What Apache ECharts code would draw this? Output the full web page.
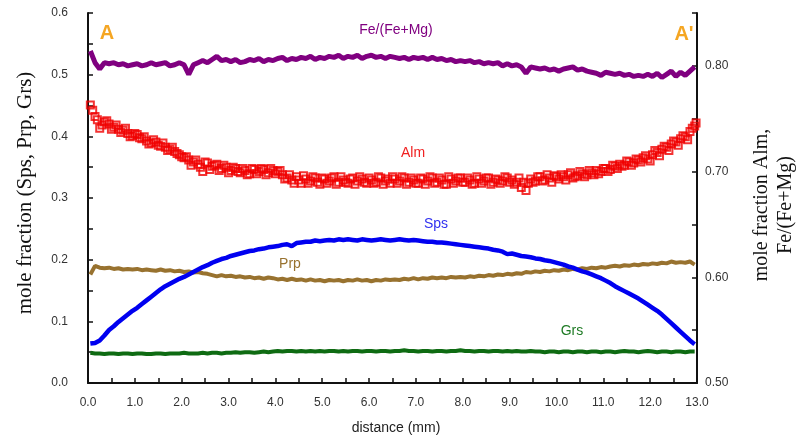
<!DOCTYPE html>
<html>
<head>
<meta charset="utf-8">
<script src="https://cdn.jsdelivr.net/npm/echarts@6/dist/echarts.min.js"></script>
<style>
html,body{margin:0;padding:0;background:#fff;}
#chart{width:798px;height:439px;}
</style>
</head>
<body>
<div id="chart"></div>
<script>
// distance along traverse A-A' (mm)
const distance = [
 0.05,0.15,0.25,0.35,0.45,0.55,0.65,0.75,0.85,0.95,
 1.05,1.15,1.25,1.35,1.45,1.55,1.65,1.75,1.85,1.95,
 2.05,2.15,2.25,2.35,2.45,2.55,2.65,2.75,2.85,2.95,
 3.05,3.15,3.25,3.35,3.45,3.55,3.65,3.75,3.85,3.95,
 4.05,4.15,4.25,4.35,4.45,4.55,4.65,4.75,4.85,4.95,
 5.05,5.15,5.25,5.35,5.45,5.55,5.65,5.75,5.85,5.95,
 6.05,6.15,6.25,6.35,6.45,6.55,6.65,6.75,6.85,6.95,
 7.05,7.15,7.25,7.35,7.45,7.55,7.65,7.75,7.85,7.95,
 8.05,8.15,8.25,8.35,8.45,8.55,8.65,8.75,8.85,8.95,
 9.05,9.15,9.25,9.35,9.45,9.55,9.65,9.75,9.85,9.95,
 10.05,10.15,10.25,10.35,10.45,10.55,10.65,10.75,10.85,10.95,
 11.05,11.15,11.25,11.35,11.45,11.55,11.65,11.75,11.85,11.95,
 12.05,12.15,12.25,12.35,12.45,12.55,12.65,12.75,12.85,12.95
];
// second set of Alm analysis positions (mm)
const distanceB = [
 0.1,0.2,0.3,0.4,0.5,0.6,0.7,0.8,0.9,1.0,
 1.1,1.2,1.3,1.4,1.5,1.6,1.7,1.8,1.9,2.0,
 2.1,2.2,2.3,2.4,2.5,2.6,2.7,2.8,2.9,3.0,
 3.1,3.2,3.3,3.4,3.5,3.6,3.7,3.8,3.9,4.0,
 4.1,4.2,4.3,4.4,4.5,4.6,4.7,4.8,4.9,5.0,
 5.1,5.2,5.3,5.4,5.5,5.6,5.7,5.8,5.9,6.0,
 6.1,6.2,6.3,6.4,6.5,6.6,6.7,6.8,6.9,7.0,
 7.1,7.2,7.3,7.4,7.5,7.6,7.7,7.8,7.9,8.0,
 8.1,8.2,8.3,8.4,8.5,8.6,8.7,8.8,8.9,9.0,
 9.1,9.2,9.3,9.4,9.5,9.6,9.7,9.8,9.9,10.0,
 10.1,10.2,10.3,10.4,10.5,10.6,10.7,10.8,10.9,11.0,
 11.1,11.2,11.3,11.4,11.5,11.6,11.7,11.8,11.9,12.0,
 12.1,12.2,12.3,12.4,12.5,12.6,12.7,12.8,12.9,12.98
];
// right axis
const feMg = [
 0.814,0.803,0.797,0.803,0.802,0.803,0.801,0.802,0.800,0.801,
 0.802,0.800,0.801,0.803,0.801,0.802,0.803,0.800,0.801,0.803,
 0.801,0.792,0.801,0.803,0.805,0.803,0.806,0.809,0.805,0.806,
 0.804,0.806,0.803,0.804,0.806,0.805,0.807,0.804,0.806,0.805,
 0.807,0.808,0.805,0.807,0.806,0.808,0.807,0.809,0.806,0.808,
 0.807,0.809,0.808,0.810,0.807,0.809,0.808,0.810,0.807,0.809,
 0.810,0.808,0.809,0.807,0.809,0.808,0.807,0.808,0.806,0.808,
 0.807,0.808,0.806,0.808,0.806,0.807,0.805,0.806,0.804,0.805,
 0.804,0.805,0.803,0.804,0.802,0.803,0.802,0.803,0.800,0.802,
 0.800,0.801,0.799,0.793,0.799,0.798,0.797,0.798,0.796,0.797,
 0.795,0.797,0.798,0.799,0.796,0.797,0.795,0.794,0.793,0.791,
 0.794,0.793,0.792,0.793,0.791,0.792,0.790,0.791,0.790,0.792,
 0.790,0.793,0.789,0.792,0.795,0.790,0.794,0.791,0.795,0.799
];
const alm = [
 0.763,0.752,0.741,0.747,0.745,0.742,0.740,0.739,0.736,0.734,
 0.735,0.731,0.729,0.727,0.728,0.724,0.723,0.721,0.719,0.716,
 0.713,0.711,0.709,0.707,0.700,0.708,0.705,0.707,0.703,0.704,
 0.701,0.703,0.699,0.701,0.698,0.702,0.700,0.702,0.699,0.701,
 0.700,0.697,0.694,0.692,0.695,0.689,0.693,0.691,0.694,0.688,
 0.693,0.691,0.695,0.690,0.692,0.689,0.694,0.691,0.693,0.689,
 0.692,0.690,0.694,0.691,0.689,0.693,0.691,0.694,0.690,0.692,
 0.689,0.693,0.691,0.694,0.690,0.692,0.688,0.693,0.691,0.694,
 0.690,0.692,0.689,0.693,0.691,0.694,0.690,0.692,0.691,0.694,
 0.692,0.690,0.685,0.682,0.693,0.691,0.695,0.692,0.694,0.696,
 0.693,0.695,0.697,0.694,0.696,0.698,0.697,0.699,0.701,0.700,
 0.703,0.702,0.705,0.707,0.706,0.709,0.708,0.711,0.713,0.712,
 0.716,0.718,0.721,0.723,0.726,0.728,0.731,0.733,0.738,0.743
];
const almB = [
 0.758,0.749,0.744,0.748,0.740,0.744,0.737,0.741,0.733,0.736,
 0.732,0.733,0.726,0.730,0.725,0.727,0.720,0.723,0.717,0.714,
 0.714,0.706,0.711,0.704,0.709,0.702,0.706,0.701,0.706,0.699,
 0.704,0.700,0.703,0.697,0.703,0.698,0.703,0.697,0.703,0.698,
 0.701,0.693,0.697,0.689,0.692,0.696,0.689,0.695,0.690,0.694,
 0.689,0.694,0.688,0.695,0.690,0.693,0.688,0.695,0.690,0.694,
 0.689,0.695,0.688,0.693,0.695,0.689,0.695,0.688,0.694,0.689,
 0.694,0.688,0.695,0.689,0.694,0.688,0.695,0.689,0.694,0.690,
 0.694,0.688,0.695,0.689,0.694,0.688,0.693,0.689,0.695,0.690,
 0.688,0.694,0.690,0.689,0.690,0.695,0.691,0.697,0.690,0.695,
 0.697,0.692,0.699,0.695,0.700,0.695,0.701,0.697,0.698,0.703,
 0.700,0.706,0.703,0.705,0.710,0.706,0.712,0.709,0.715,0.710,
 0.720,0.715,0.724,0.720,0.729,0.725,0.734,0.730,0.741,0.746
];
// left axis
const sps = [
 0.064,0.065,0.069,0.077,0.086,0.092,0.099,0.105,0.111,0.117,
 0.122,0.128,0.134,0.140,0.146,0.152,0.157,0.161,0.165,0.169,
 0.172,0.176,0.180,0.184,0.188,0.191,0.195,0.198,0.201,0.203,
 0.206,0.208,0.210,0.212,0.214,0.215,0.217,0.218,0.220,0.221,
 0.222,0.224,0.225,0.222,0.227,0.228,0.229,0.229,0.231,0.230,
 0.231,0.232,0.231,0.233,0.232,0.233,0.232,0.231,0.233,0.232,
 0.231,0.232,0.233,0.232,0.231,0.232,0.233,0.232,0.231,0.232,
 0.231,0.230,0.229,0.229,0.228,0.228,0.227,0.226,0.225,0.224,
 0.223,0.222,0.221,0.220,0.219,0.218,0.216,0.215,0.213,0.209,
 0.210,0.208,0.206,0.205,0.204,0.202,0.201,0.199,0.198,0.196,
 0.194,0.192,0.189,0.187,0.184,0.181,0.179,0.176,0.173,0.170,
 0.166,0.162,0.157,0.153,0.149,0.145,0.141,0.137,0.132,0.127,
 0.122,0.117,0.111,0.104,0.097,0.090,0.083,0.076,0.069,0.063
];
const prp = [
 0.176,0.190,0.187,0.186,0.187,0.185,0.186,0.184,0.185,0.184,
 0.185,0.183,0.184,0.183,0.182,0.184,0.182,0.183,0.181,0.182,
 0.180,0.181,0.179,0.180,0.178,0.177,0.175,0.173,0.175,0.173,
 0.174,0.172,0.173,0.171,0.172,0.170,0.171,0.169,0.171,0.170,
 0.168,0.169,0.167,0.169,0.167,0.168,0.166,0.168,0.166,0.167,
 0.165,0.167,0.166,0.167,0.165,0.167,0.166,0.168,0.166,0.167,
 0.165,0.167,0.166,0.168,0.167,0.168,0.167,0.169,0.168,0.170,
 0.168,0.170,0.169,0.171,0.170,0.171,0.170,0.172,0.171,0.172,
 0.171,0.173,0.172,0.174,0.173,0.175,0.174,0.176,0.175,0.177,
 0.176,0.178,0.177,0.180,0.179,0.181,0.180,0.182,0.181,0.183,
 0.182,0.184,0.183,0.185,0.184,0.186,0.185,0.187,0.186,0.188,
 0.187,0.189,0.190,0.189,0.191,0.190,0.192,0.191,0.193,0.192,
 0.194,0.193,0.195,0.194,0.197,0.195,0.196,0.195,0.197,0.192
];
const grs = [
 0.049,0.048,0.048,0.047,0.048,0.048,0.047,0.048,0.048,0.047,
 0.048,0.048,0.047,0.047,0.048,0.048,0.047,0.048,0.048,0.048,
 0.049,0.048,0.048,0.048,0.049,0.048,0.049,0.049,0.048,0.049,
 0.049,0.050,0.049,0.050,0.050,0.049,0.050,0.051,0.050,0.051,
 0.052,0.051,0.052,0.052,0.051,0.052,0.051,0.052,0.051,0.052,
 0.051,0.052,0.052,0.051,0.052,0.051,0.052,0.052,0.051,0.052,
 0.052,0.051,0.052,0.052,0.051,0.052,0.052,0.053,0.052,0.052,
 0.051,0.052,0.052,0.051,0.052,0.052,0.051,0.052,0.052,0.053,
 0.052,0.052,0.051,0.052,0.052,0.051,0.052,0.052,0.051,0.052,
 0.051,0.052,0.051,0.051,0.052,0.051,0.051,0.050,0.051,0.051,
 0.050,0.051,0.051,0.050,0.051,0.051,0.050,0.051,0.051,0.050,
 0.051,0.051,0.050,0.051,0.052,0.051,0.051,0.050,0.051,0.052,
 0.051,0.050,0.051,0.051,0.050,0.051,0.051,0.050,0.051,0.051
];

const pairs = (xs, arr) => xs.map((d, i) => [d, arr[i]]);
const chart = echarts.init(document.getElementById('chart'), null, {renderer: 'canvas'});

const axisLineStyle = {show: true, lineStyle: {color: '#111', width: 2}};
const tickStyle = {show: true, inside: true, length: 5, lineStyle: {color: '#111', width: 1.5}};
const labelFont = {fontFamily: 'Liberation Sans, Arial, sans-serif', fontSize: 12, color: '#333'};

const lineSeries = (name, arr, color, yAxisIndex, width) => ({
  name, type: 'line', data: pairs(distance, arr), yAxisIndex, showSymbol: false, symbol: 'none',
  lineStyle: {color, width}, itemStyle: {color}, silent: true
});
const almStyle = {color: 'rgba(255,255,255,0)', borderColor: '#f00000', borderWidth: 2};

chart.setOption({
  animation: false,
  backgroundColor: '#fff',
  grid: {left: 88, right: 101, top: 13, bottom: 56, containLabel: false},
  xAxis: {
    type: 'value', min: 0, max: 13, interval: 0.5,
    axisLine: axisLineStyle, axisTick: tickStyle, splitLine: {show: false},
    axisLabel: Object.assign({margin: 14, formatter: v => (Math.abs(v - Math.round(v)) < 1e-6 ? v.toFixed(1) : '')}, labelFont)
  },
  yAxis: [
    {
      type: 'value', min: 0, max: 0.6, interval: 0.05, position: 'left',
      axisLine: axisLineStyle, axisTick: tickStyle, splitLine: {show: false},
      axisLabel: Object.assign({margin: 20, formatter: v => (Math.round(v * 100) % 10 === 0 ? v.toFixed(1) : '')}, labelFont)
    },
    {
      type: 'value', min: 0.5, max: 0.85, interval: 0.05, position: 'right',
      axisLine: axisLineStyle, axisTick: tickStyle, splitLine: {show: false},
      axisLabel: Object.assign({margin: 8, formatter: v => (Math.round(v * 100) % 10 === 0 && v < 0.845 ? v.toFixed(2) : '')}, labelFont)
    }
  ],
  series: [
    lineSeries('Grs', grs, '#0e6b12', 0, 4),
    lineSeries('Prp', prp, '#98722f', 0, 4),
    lineSeries('Sps', sps, '#0000f0', 0, 4.5),
    {name: 'Alm', type: 'scatter', data: pairs(distance, alm), yAxisIndex: 1, symbol: 'rect', symbolSize: 7, itemStyle: almStyle, silent: true},
    {name: 'Alm ', type: 'scatter', data: pairs(distanceB, almB), yAxisIndex: 1, symbol: 'rect', symbolSize: 7, itemStyle: almStyle, silent: true},
    lineSeries('Fe/(Fe+Mg)', feMg, '#800080', 1, 5)
  ],
  graphic: [
    {type: 'text', x: 396, y: 30, style: {text: 'Fe/(Fe+Mg)', fill: '#800080', font: '14px Liberation Sans, Arial, sans-serif', textAlign: 'center', textVerticalAlign: 'middle'}},
    {type: 'text', x: 413, y: 153, style: {text: 'Alm', fill: '#f02020', font: '14px Liberation Sans, Arial, sans-serif', textAlign: 'center', textVerticalAlign: 'middle'}},
    {type: 'text', x: 436, y: 224, style: {text: 'Sps', fill: '#3030f0', font: '14px Liberation Sans, Arial, sans-serif', textAlign: 'center', textVerticalAlign: 'middle'}},
    {type: 'text', x: 290, y: 264, style: {text: 'Prp', fill: '#98722f', font: '14px Liberation Sans, Arial, sans-serif', textAlign: 'center', textVerticalAlign: 'middle'}},
    {type: 'text', x: 572, y: 331, style: {text: 'Grs', fill: '#1e7a24', font: '14px Liberation Sans, Arial, sans-serif', textAlign: 'center', textVerticalAlign: 'middle'}},
    {type: 'text', x: 107, y: 33, style: {text: 'A', fill: '#f5a623', font: 'bold 20px Liberation Sans, Arial, sans-serif', textAlign: 'center', textVerticalAlign: 'middle'}},
    {type: 'text', x: 684, y: 34, style: {text: "A'", fill: '#f5a623', font: 'bold 20px Liberation Sans, Arial, sans-serif', textAlign: 'center', textVerticalAlign: 'middle'}},
    {type: 'text', x: 25, y: 193, rotation: Math.PI / 2, style: {text: 'mole fraction (Sps, Prp, Grs)', fill: '#111', font: '21px Liberation Serif, Times New Roman, serif', textAlign: 'center', textVerticalAlign: 'middle'}},
    {type: 'text', x: 774, y: 205, rotation: Math.PI / 2, style: {text: 'mole fraction Alm,\nFe/(Fe+Mg)', fill: '#111', font: '20px Liberation Serif, Times New Roman, serif', textAlign: 'center', textVerticalAlign: 'middle', lineHeight: 24}},
    {type: 'text', x: 396, y: 428, style: {text: 'distance (mm)', fill: '#222', font: '14px Liberation Sans, Arial, sans-serif', textAlign: 'center', textVerticalAlign: 'middle'}}
  ]
});
</script>
</body>
</html>
